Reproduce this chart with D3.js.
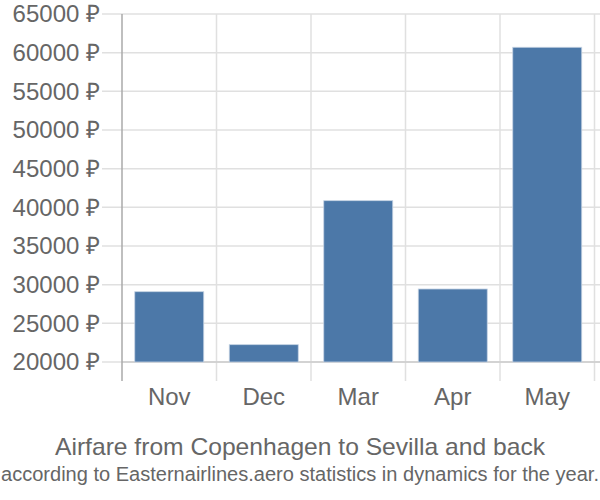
<!DOCTYPE html>
<html><head><meta charset="utf-8">
<script src="https://cdn.jsdelivr.net/npm/d3@7"></script>
<style>body{margin:0;background:#fff}</style>
</head><body>
<svg id="c" width="600" height="500"></svg>
<script>
const months = ["Nov","Dec","Mar","Apr","May"];
const prices = [29090, 22240, 40860, 29440, 60700];
const yTicks = [20000,25000,30000,35000,40000,45000,50000,55000,60000,65000];
const title = "Airfare from Copenhagen to Sevilla and back";
const subtitle = "according to Easternairlines.aero statistics in dynamics for the year.";

const svg = d3.select("#c");
const font = "'Liberation Sans', Arial, sans-serif";
const x = d3.scaleBand().domain(months).range([122, 594.5]).paddingInner(0.27).paddingOuter(0.135);
const xg = d3.scaleBand().domain(months).range([122, 594.5]);
const y = d3.scaleLinear().domain([20000, 65000]).range([362, 14]);

// horizontal grid
svg.append("g").selectAll("line").data(yTicks).join("line")
  .attr("x1", 102).attr("x2", 600)
  .attr("y1", d => y(d)).attr("y2", d => y(d))
  .attr("stroke", "#e0e0e0").attr("stroke-width", 1.5);
// vertical grid
const vx = months.map(m => xg(m)).concat([xg(months[months.length-1]) + xg.bandwidth()]);
svg.append("g").selectAll("line").data(vx.slice(1)).join("line")
  .attr("x1", d => d).attr("x2", d => d).attr("y1", 14).attr("y2", 381)
  .attr("stroke", "#e0e0e0").attr("stroke-width", 1.5);
// baseline
svg.append("line").attr("x1",122).attr("x2",600).attr("y1",y(20000)).attr("y2",y(20000))
  .attr("stroke","#cccccc").attr("stroke-width",1.5);
// y axis line
svg.append("line").attr("x1",122).attr("x2",122).attr("y1",14).attr("y2",381)
  .attr("stroke","#aaaaaa").attr("stroke-width",1.5);

// bars
svg.append("g").selectAll("rect").data(months).join("rect")
  .attr("x", d => x(d)).attr("width", x.bandwidth())
  .attr("y", (d,i) => y(prices[i])).attr("height", (d,i) => y(20000) - y(prices[i]))
  .attr("fill", "#4c78a8").attr("stroke", "#c5d3e3").attr("stroke-width", 0.8);

// y labels
svg.append("g").selectAll("text").data(yTicks).join("text")
  .attr("x", 100).attr("y", d => y(d)).attr("dy", "0.35em")
  .attr("text-anchor", "end").attr("font-family", font).attr("font-size", 24)
  .attr("fill", "#666").text(d => d + " ₽");
// x labels
svg.append("g").selectAll("text").data(months).join("text")
  .attr("x", d => xg(d) + xg.bandwidth()/2).attr("y", 405)
  .attr("text-anchor", "middle").attr("font-family", font).attr("font-size", 24)
  .attr("fill", "#666").text(d => d);

svg.append("text").attr("x", 300).attr("y", 455).attr("text-anchor","middle")
  .attr("font-family", font).attr("font-size", 24).attr("fill","#666")
  .attr("textLength", 490).attr("lengthAdjust","spacingAndGlyphs").text(title);
svg.append("text").attr("x", 300).attr("y", 481).attr("text-anchor","middle")
  .attr("font-family", font).attr("font-size", 20).attr("fill","#666")
  .attr("textLength", 598).attr("lengthAdjust","spacingAndGlyphs").text(subtitle);
</script>
</body></html>
